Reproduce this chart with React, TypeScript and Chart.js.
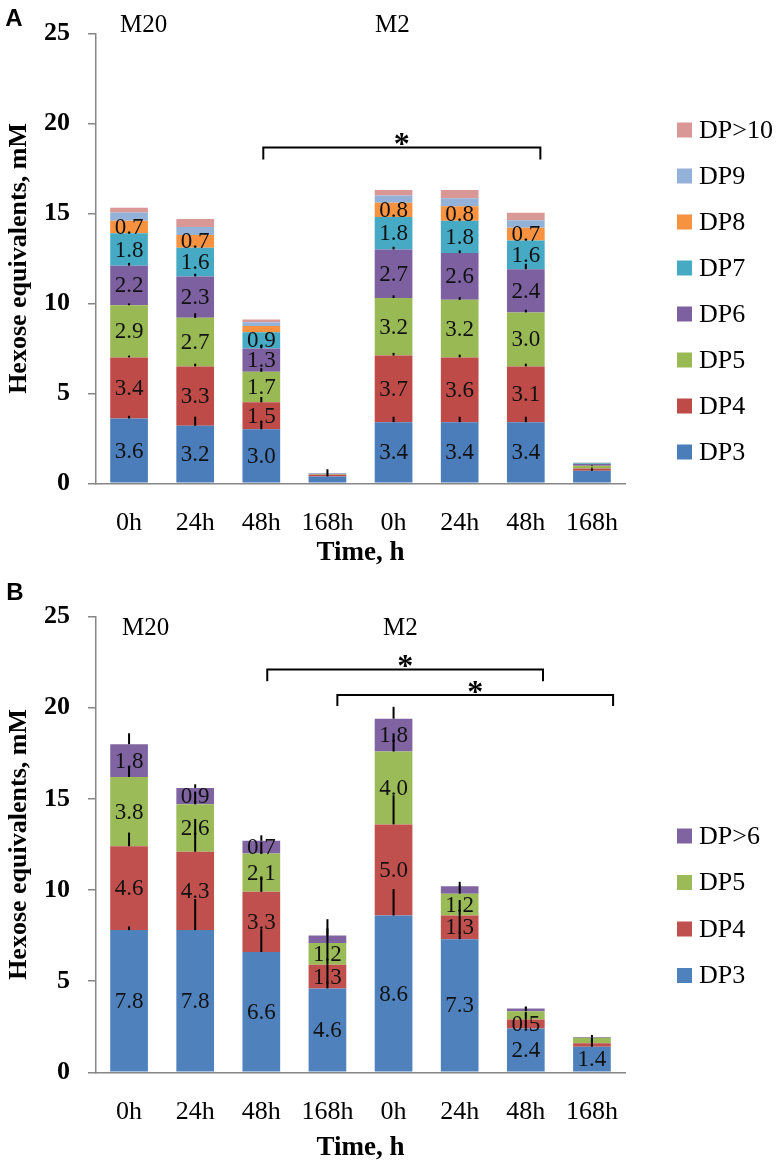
import React, { useEffect, useRef } from "react";
import { Chart, registerables } from "chart.js";
Chart.register(...registerables);

const SERIF = "'Liberation Serif', 'Times New Roman', serif";
const SANS = "'Liberation Sans', Arial, sans-serif";

// ---------- data ----------
const categories = ["0h", "24h", "48h", "168h", "0h", "24h", "48h", "168h"];
const yTicksMax = 25;
const yStep = 5;

// Panel A (DP3 .. DP>10)
const seriesNamesA = ["DP3", "DP4", "DP5", "DP6", "DP7", "DP8", "DP9", "DP>10"];
const dp3A = [3.6, 3.2, 3.0, 0.38, 3.4, 3.4, 3.4, 0.7];
const dp4A = [3.4, 3.3, 1.5, 0.1, 3.7, 3.6, 3.1, 0.12];
const dp5A = [2.9, 2.7, 1.7, 0.03, 3.2, 3.2, 3.0, 0.15];
const dp6A = [2.2, 2.3, 1.3, 0.02, 2.7, 2.6, 2.4, 0.1];
const dp7A = [1.8, 1.6, 0.9, 0.01, 1.8, 1.8, 1.6, 0.04];
const dp8A = [0.7, 0.7, 0.35, 0.01, 0.8, 0.8, 0.7, 0.02];
const dp9A = [0.45, 0.45, 0.2, 0.01, 0.4, 0.45, 0.42, 0.01];
const dp10A = [0.27, 0.45, 0.15, 0.01, 0.3, 0.45, 0.42, 0.01];
// upper error bars, panel A
const errDp3A = [0.15, 0.5, 0.4, 0.4, 0.3, 0.3, 0.3, 0.1];
const errDp4A = [0.1, 0.15, 0.3, 0, 0.15, 0.15, 0.15, 0.05];
const errDp5A = [0.1, 0.25, 0.2, 0, 0.15, 0.15, 0.15, 0.03];
const errDp6A = [0.15, 0.15, 0.15, 0, 0.15, 0.15, 0.3, 0];
const zeroErr = [0, 0, 0, 0, 0, 0, 0, 0];
const unlabeledBarsA = [3, 7];

// Panel B (DP3 .. DP>6)
const seriesNamesB = ["DP3", "DP4", "DP5", "DP>6"];
const dp3B = [7.8, 7.8, 6.6, 4.6, 8.6, 7.3, 2.4, 1.4];
const dp4B = [4.6, 4.3, 3.3, 1.3, 5.0, 1.3, 0.5, 0.2];
const dp5B = [3.8, 2.6, 2.1, 1.2, 4.0, 1.2, 0.45, 0.3];
const dp6B = [1.8, 0.9, 0.7, 0.4, 1.8, 0.4, 0.15, 0.03];
const errDp3B = [0.2, 1.7, 1.25, 1.3, 1.45, 1.3, 0.5, 0.3];
const errDp4B = [0.75, 1.8, 0.85, 1.2, 1.6, 0.85, 0.4, 0.3];
const errDp5B = [0.55, 0.7, 0.65, 0.8, 1.0, 0.45, 0.25, 0.15];
const errDp6B = [0.6, 0.2, 0.3, 0.9, 0.65, 0.25, 0.1, 0.05];
const unlabeledBarsB: number[] = [];

// significance brackets: [from position, to position, bar level, drop level, star level]
const bracketsA = [[2.03, 6.22, 18.67, 18.0, 19.15]];
const bracketsB = [
  [2.09, 6.26, 22.1, 21.45, 22.55],
  [3.15, 7.32, 20.7, 20.1, 21.15],
];
const groupNames = ["M20", "M2"];

const colorsA = ["#4A7DBA", "#BE4B48", "#98B954", "#7D60A0", "#46AAC5", "#F69240", "#94B2D7", "#D99795"];
const colorsB = ["#4F81BD", "#C0504D", "#9BBB59", "#8064A2"];

type Spec = {
  names: string[];
  colors: string[];
  values: number[][];
  errors: number[][];
  unlabeled: number[];
  brackets: number[][];
  panel: string;
  panelPos: [number, number];
  groupPos: [number, number][];
  legendX: number;
  legendTop: number;
  legendStep: number;
  padTop: number;
  padBottom: number;
  tickPad: number;
  xTitlePadTop: number;
};

const specA: Spec = {
  names: seriesNamesA,
  colors: colorsA,
  values: [dp3A, dp4A, dp5A, dp6A, dp7A, dp8A, dp9A, dp10A],
  errors: [errDp3A, errDp4A, errDp5A, errDp6A, zeroErr, zeroErr, zeroErr, zeroErr],
  unlabeled: unlabeledBarsA,
  brackets: bracketsA,
  panel: "A",
  panelPos: [14, 17],
  groupPos: [[120, 23], [375, 23]],
  legendX: 677,
  legendTop: 130,
  legendStep: 46,
  padTop: 16,
  padBottom: 13.8,
  tickPad: 16,
  xTitlePadTop: -17.7,
};

const specB: Spec = {
  names: seriesNamesB,
  colors: colorsB,
  values: [dp3B, dp4B, dp5B, dp6B],
  errors: [errDp3B, errDp4B, errDp5B, errDp6B],
  unlabeled: unlabeledBarsB,
  brackets: bracketsB,
  panel: "B",
  panelPos: [15, 8],
  groupPos: [[122, 43], [383, 43]],
  legendX: 677,
  legendTop: 253,
  legendStep: 46.5,
  padTop: 24,
  padBottom: 1.8,
  tickPad: 16,
  xTitlePadTop: -11.7,
};

function drawCenteredText(ctx: CanvasRenderingContext2D, text: string, x: number, y: number) {
  const m = ctx.measureText(text);
  const a = m.actualBoundingBoxAscent;
  const d = m.actualBoundingBoxDescent;
  ctx.textBaseline = "alphabetic";
  ctx.fillText(text, x, y + (a - d) / 2);
}

function makePlugin(spec: Spec) {
  return {
    id: "annot" + spec.panel,
    afterDatasetsDraw(chart: any) {
      const ctx: CanvasRenderingContext2D = chart.ctx;
      const ys = chart.scales.y;
      ctx.save();
      // value labels
      ctx.fillStyle = "#111";
      ctx.font = `23px ${SERIF}`;
      ctx.textAlign = "center";
      ctx.textBaseline = "middle";
      spec.values.forEach((vals, di) => {
        const meta = chart.getDatasetMeta(di);
        vals.forEach((v, j) => {
          if (v < 0.5 || spec.unlabeled.includes(j)) return;
          const el = meta.data[j];
          ctx.fillText(v.toFixed(1), el.x, (el.y + el.base) / 2 + 1);
        });
      });
      // error bars (upper)
      ctx.strokeStyle = "#000";
      ctx.lineWidth = 2;
      const cum = categories.map(() => 0);
      spec.values.forEach((vals, di) => {
        const meta = chart.getDatasetMeta(di);
        vals.forEach((v, j) => {
          cum[j] += v;
          const e = spec.errors[di][j];
          if (!e) return;
          const el = meta.data[j];
          const y0 = ys.getPixelForValue(cum[j]);
          const y1 = ys.getPixelForValue(cum[j] + e);
          ctx.beginPath();
          ctx.moveTo(el.x, y0);
          ctx.lineTo(el.x, y1);
          ctx.stroke();
        });
      });
      ctx.restore();
    },
    afterDraw(chart: any) {
      const ctx: CanvasRenderingContext2D = chart.ctx;
      const xs = chart.scales.x;
      const ys = chart.scales.y;
      const w = (xs.right - xs.left) / categories.length;
      const px = (p: number) => xs.left + (p + 0.5) * w;
      ctx.save();
      // panel letter
      ctx.fillStyle = "#000";
      ctx.textAlign = "center";
      ctx.font = `bold 24px ${SANS}`;
      drawCenteredText(ctx, spec.panel, spec.panelPos[0], spec.panelPos[1]);
      // group names
      ctx.textAlign = "left";
      ctx.font = `25px ${SERIF}`;
      spec.groupPos.forEach((g, i) => {
        drawCenteredText(ctx, groupNames[i], g[0], g[1]);
      });
      // brackets
      ctx.strokeStyle = "#000";
      ctx.lineWidth = 2;
      spec.brackets.forEach((b) => {
        const x1 = px(b[0]);
        const x2 = px(b[1]);
        const yT = ys.getPixelForValue(b[2]);
        const yD = ys.getPixelForValue(b[3]);
        ctx.beginPath();
        ctx.moveTo(x1, yD);
        ctx.lineTo(x1, yT);
        ctx.lineTo(x2, yT);
        ctx.lineTo(x2, yD);
        ctx.stroke();
        ctx.font = `bold 32px ${SERIF}`;
        ctx.textAlign = "center";
        drawCenteredText(ctx, "*", px((b[0] + b[1]) / 2), ys.getPixelForValue(b[4]));
      });
      // legend (reverse order)
      ctx.font = `26px ${SERIF}`;
      ctx.textAlign = "left";
      ctx.textBaseline = "middle";
      const n = spec.names.length;
      for (let k = 0; k < n; k++) {
        const di = n - 1 - k;
        const y = spec.legendTop + k * spec.legendStep;
        ctx.fillStyle = spec.colors[di];
        ctx.fillRect(spec.legendX, y - 7.5, 15, 15);
        ctx.fillStyle = "#000";
        ctx.fillText(spec.names[di], spec.legendX + 22, y + 1);
      }
      ctx.restore();
    },
  };
}

function Panel({ spec }: { spec: Spec }) {
  const ref = useRef<HTMLCanvasElement | null>(null);
  useEffect(() => {
    if (!ref.current) return;
    const chart = new Chart(ref.current, {
      type: "bar",
      data: {
        labels: categories,
        datasets: spec.values.map((vals, i) => ({
          label: spec.names[i],
          data: vals,
          backgroundColor: spec.colors[i],
          borderWidth: 0,
          barPercentage: 0.57,
          categoryPercentage: 1,
        })),
      },
      options: {
        responsive: false,
        animation: false,
        devicePixelRatio: 1,
        layout: { padding: { top: spec.padTop, right: 159, left: 0, bottom: spec.padBottom } },
        plugins: { legend: { display: false }, tooltip: { enabled: false } },
        scales: {
          x: {
            stacked: true,
            offset: true,
            grid: { display: false },
            border: { display: true, color: "#868686", width: 1.5 },
            ticks: {
              color: "#000",
              padding: spec.tickPad,
              autoSkip: false,
              maxRotation: 0,
              minRotation: 0,
              font: { family: SERIF, size: 26 },
            },
            title: {
              display: true,
              text: "Time, h",
              color: "#000",
              font: { family: SERIF, size: 27, weight: "bold" },
              padding: { top: spec.xTitlePadTop, bottom: 0 },
            },
          },
          y: {
            stacked: true,
            min: 0,
            max: yTicksMax,
            grid: { drawOnChartArea: false, drawTicks: true, tickLength: 8, color: "#868686", lineWidth: 1.5 },
            border: { display: true, color: "#868686", width: 1.5 },
            ticks: {
              stepSize: yStep,
              color: "#000",
              padding: 18,
              font: { family: SERIF, size: 26, weight: "bold" },
            },
            title: {
              display: true,
              text: "Hexose equivalents, mM",
              color: "#000",
              font: { family: SERIF, size: 26, weight: "bold" },
              padding: { top: 4, bottom: 0 },
            },
            afterFit: (s: any) => {
              s.width = 96;
            },
          },
        },
      } as any,
      plugins: [makePlugin(spec)],
    });
    return () => chart.destroy();
  }, [spec]);
  return <canvas ref={ref} width={784} height={583} style={{ display: "block", width: 784, height: 583 }} />;
}

export default function App() {
  return (
    <div style={{ position: "absolute", left: 0, top: 0, width: 784, height: 1166, background: "#fff" }}>
      <Panel spec={specA} />
      <Panel spec={specB} />
    </div>
  );
}
